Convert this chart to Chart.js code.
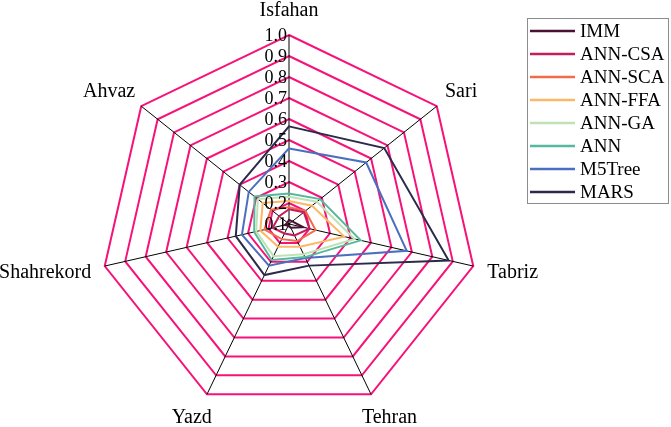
<!DOCTYPE html>
<html>
<head>
<meta charset="utf-8">
<script src="https://cdn.jsdelivr.net/npm/chart.js@4"></script>
<style>
  body { margin: 0; background: #fff; }
  #wrap { width: 671px; height: 427px; }
</style>
</head>
<body>
<div id="wrap"><canvas id="myChart"></canvas></div>
<script>
// Städte (Achsen)
const cities = ['Isfahan', 'Sari', 'Tabriz', 'Tehran', 'Yazd', 'Shahrekord', 'Ahvaz'];

// Werte je Modell (aus dem Bild geschätzt)
const imm    = [0.12, 0.12, 0.17, 0.12, 0.11, 0.12, 0.11];
const annCsa = [0.17, 0.19, 0.20, 0.16, 0.15, 0.18, 0.16];
const annSca = [0.18, 0.20, 0.23, 0.19, 0.18, 0.22, 0.21];
const annFfa = [0.21, 0.24, 0.37, 0.22, 0.22, 0.24, 0.26];
const annGa  = [0.23, 0.27, 0.42, 0.26, 0.27, 0.26, 0.29];
const ann    = [0.245, 0.29, 0.45, 0.275, 0.29, 0.27, 0.31];
const m5Tree = [0.46, 0.57, 0.675, 0.28, 0.32, 0.33, 0.345];
const mars   = [0.565, 0.68, 0.88, 0.32, 0.37, 0.36, 0.40];

const seriesNames  = ['IMM', 'ANN-CSA', 'ANN-SCA', 'ANN-FFA', 'ANN-GA', 'ANN', 'M5Tree', 'MARS'];
const seriesValues = [imm, annCsa, annSca, annFfa, annGa, ann, m5Tree, mars];
const seriesColors = ['#4a1232', '#c41f5c', '#f26b4b', '#fbb868', '#bfe2b5', '#56b89c', '#4b6fbe', '#2b2a4d'];

// Achsenbeschriftung (Ticks)
const tickMin = 0.1;
const tickMax = 1.0;
const tickStep = 0.1;

const serif = "'Liberation Serif', 'Times New Roman', serif";

// Tick-Labels links neben der senkrechten Achse zeichnen
const tickLabelPlugin = {
    id: 'tickLabels',
    afterDraw(chart) {
        const scale = chart.scales.r;
        const ctx = chart.ctx;
        ctx.save();
        ctx.font = '18px ' + serif;
        ctx.fillStyle = '#000';
        ctx.textAlign = 'right';
        ctx.textBaseline = 'middle';
        scale.ticks.forEach(t => {
            const p = scale.getPointPositionForValue(0, t.value);
            ctx.fillText(t.value.toFixed(1), p.x - 2, p.y + 1);
        });
        ctx.restore();
    }
};

// Städtenamen aussen an den Ecken (Box berührt den Ankerpunkt wie in Excel)
const cityLabelPlugin = {
    id: 'cityLabels',
    afterDraw(chart) {
        const scale = chart.scales.r;
        const ctx = chart.ctx;
        const pad = 15;
        ctx.save();
        ctx.font = '20px ' + serif;
        ctx.fillStyle = '#000';
        ctx.textAlign = 'center';
        ctx.textBaseline = 'middle';
        chart.data.labels.forEach((label, i) => {
            const p = scale.getPointPosition(i, scale.drawingArea + pad);
            const dx = (p.x - scale.xCenter) / (scale.drawingArea + pad);
            const dy = (p.y - scale.yCenter) / (scale.drawingArea + pad);
            const w = ctx.measureText(label).width;
            ctx.fillText(label, p.x + dx * w / 2, p.y + dy * 10 + 1);
        });
        ctx.restore();
    }
};

// Legende mit Rahmen rechts oben
const boxLegendPlugin = {
    id: 'boxLegend',
    afterDraw(chart) {
        const ctx = chart.ctx;
        const x0 = 527, y0 = 18, w = 141, rowH = 23;
        const h = (seriesNames.length - 1) * rowH + 24;
        ctx.save();
        ctx.strokeStyle = '#8c8c8c';
        ctx.lineWidth = 1;
        ctx.strokeRect(x0 + 0.5, y0 + 0.5, w, h);
        ctx.font = '19px ' + serif;
        ctx.textBaseline = 'middle';
        ctx.textAlign = 'left';
        chart.data.datasets.forEach((ds, i) => {
            const y = y0 + 13 + i * rowH;
            ctx.strokeStyle = ds.borderColor;
            ctx.lineWidth = 2.5;
            ctx.beginPath();
            ctx.moveTo(x0 + 3, y);
            ctx.lineTo(x0 + 48, y);
            ctx.stroke();
            ctx.fillStyle = '#000';
            ctx.fillText(ds.label, x0 + 53, y + 1);
        });
        ctx.restore();
    }
};

const ctx = document.getElementById('myChart').getContext('2d');

new Chart(ctx, {
    type: 'radar',
    data: {
        labels: cities,
        datasets: seriesNames.map((name, i) => ({
            label: name,
            data: seriesValues[i],
            borderColor: seriesColors[i],
            backgroundColor: seriesColors[i],
            borderWidth: 2,
            fill: false,
            pointRadius: 0,
            pointHoverRadius: 0,
            tension: 0
        }))
    },
    options: {
        responsive: true,
        maintainAspectRatio: false,
        animation: false,
        layout: {
            padding: { left: 89, right: 182, top: 35, bottom: 14 }
        },
        plugins: {
            legend: { display: false },
            tooltip: { enabled: false }
        },
        scales: {
            r: {
                min: tickMin,
                max: tickMax,
                beginAtZero: false,
                ticks: {
                    stepSize: tickStep,
                    display: false
                },
                grid: {
                    color: '#f7127a',
                    lineWidth: 2,
                    circular: false
                },
                angleLines: {
                    color: '#000',
                    lineWidth: 1
                },
                pointLabels: {
                    display: false
                }
            }
        }
    },
    plugins: [tickLabelPlugin, cityLabelPlugin, boxLegendPlugin]
});
</script>
</body>
</html>
